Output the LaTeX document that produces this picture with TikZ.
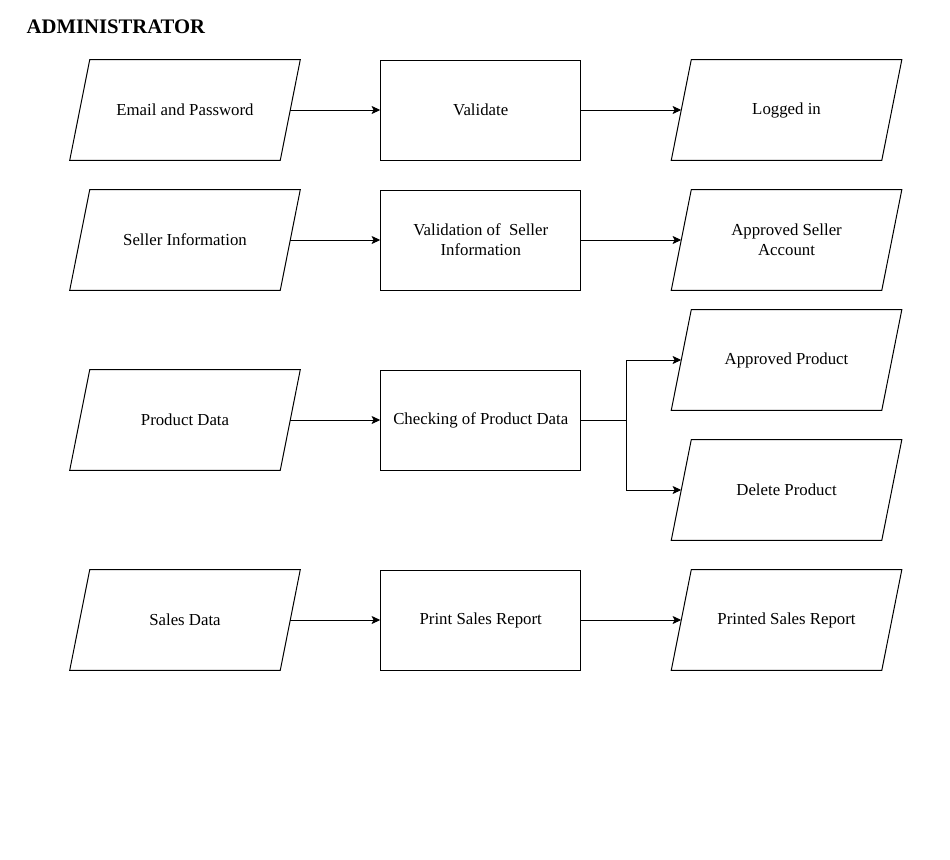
\documentclass[tikz,border=0pt]{standalone}
\usepackage{fontspec}
\setmainfont{Liberation Serif}
\usetikzlibrary{positioning}
\usetikzlibrary{arrows.meta}

\tikzset{
  data/.style={rectangle, minimum width=157.5pt, minimum height=75pt,
    inner sep=0pt, align=center, font=\fontsize{12.6}{15}\selectfont},
  proc/.style={draw, line width=0.75pt, rectangle, minimum width=150pt,
    minimum height=75pt, inner sep=0pt, align=center,
    font=\fontsize{12.6}{15}\selectfont},
  flow/.style={-{Stealth[length=6.5pt,width=6pt,inset=1.5pt]}, line width=0.75pt}
}

\begin{document}
\begin{tikzpicture}[x=0.75pt, y=-0.75pt]
    \useasboundingbox (0,0) rectangle (950,860);
    \node[anchor=west, font=\bfseries\fontsize{15.5}{18}\selectfont] (title) at (22,27) {ADMINISTRATOR};
    % login
    \node[data] (in1) at (185,110) {Email and Password};
    \node[proc, right = 67.5pt of in1] (p1) {Validate};
    \node[data, right = 75pt of p1] (out1) {Logged in};
    % seller
    \node[data] (in2) at (185,240) {Seller Information};
    \node[proc, right = 67.5pt of in2] (p2) {Validation of~ Seller\\Information};
    \node[data, right = 75pt of p2] (out2) {Approved Seller\\Account};
    % product
    \node[data] (in3) at (185,420) {Product Data};
    \node[proc, right = 67.5pt of in3] (p3) {Checking of Product Data};
    \node[data, right = 75pt of p3, yshift=45pt] (out3a) {Approved Product};
    \node[data, right = 75pt of p3, yshift=-52.5pt] (out3b) {Delete Product};
    % sales
    \node[data] (in4) at (185,620) {Sales Data};
    \node[proc, right = 67.5pt of in4] (p4) {Print Sales Report};
    \node[data, right = 75pt of p4] (out4) {Printed Sales Report};
    % slanted outlines of the data nodes
    \foreach \n in {in1,out1,in2,out2,in3,out3a,out3b,in4,out4}
        \path[draw, line width=0.75pt] ([xshift=7.5pt]\n.north west) -- ([xshift=7.5pt]\n.north east)
            -- ([xshift=-7.5pt]\n.south east) -- ([xshift=-7.5pt]\n.south west) -- cycle;
    \path[draw, flow] (in1.east) -- (p1.west);
    \path[draw, flow] (p1.east) -- (out1.west);
    \path[draw, flow] (in2.east) -- (p2.west);
    \path[draw, flow] (p2.east) -- (out2.west);
    \path[draw, flow] (in3.east) -- (p3.west);
    \path[draw, flow] (p3.east) -- ++(45,0) |- (out3a.west);
    \path[draw, flow] (p3.east) -- ++(45,0) |- (out3b.west);
    \path[draw, flow] (in4.east) -- (p4.west);
    \path[draw, flow] (p4.east) -- (out4.west);
\end{tikzpicture}
\end{document}
